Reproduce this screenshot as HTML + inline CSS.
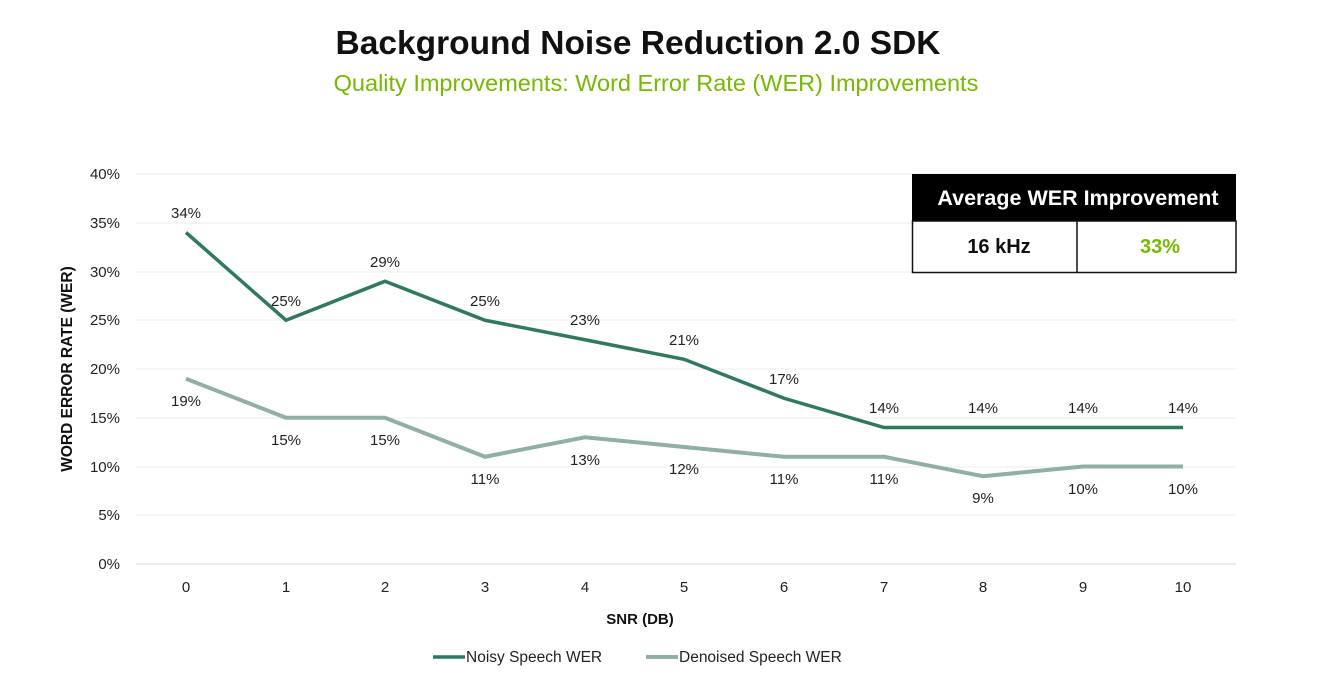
<!DOCTYPE html>
<html><head><meta charset="utf-8"><style>
html,body{margin:0;padding:0;background:#fff;}
svg{display:block;font-family:"Liberation Sans","DejaVu Sans",sans-serif;}
</style></head><body>
<svg width="1321" height="679" viewBox="0 0 1321 679" xmlns="http://www.w3.org/2000/svg">
<text x="638" y="54" text-anchor="middle" font-size="33.5" font-weight="bold" fill="#111">Background Noise Reduction 2.0 SDK</text>
<text x="656" y="91" text-anchor="middle" font-size="23.5" fill="#76b900">Quality Improvements: Word Error Rate (WER) Improvements</text>
<g stroke="#ececec" stroke-width="1">
<line x1="136" x2="1236" y1="174" y2="174"/><line x1="136" x2="1236" y1="223" y2="223"/>
<line x1="136" x2="1236" y1="272" y2="272"/><line x1="136" x2="1236" y1="320" y2="320"/>
<line x1="136" x2="1236" y1="369" y2="369"/><line x1="136" x2="1236" y1="418" y2="418"/>
<line x1="136" x2="1236" y1="467" y2="467"/><line x1="136" x2="1236" y1="515" y2="515"/>
<line x1="136" x2="1236" y1="564" y2="564" stroke="#ddd"/>
</g>
<g font-size="15" fill="#222" text-anchor="end">
<text x="120" y="179">40%</text><text x="120" y="228">35%</text><text x="120" y="277">30%</text>
<text x="120" y="325">25%</text><text x="120" y="374">20%</text><text x="120" y="423">15%</text>
<text x="120" y="472">10%</text><text x="120" y="520">5%</text><text x="120" y="569">0%</text>
</g>
<text transform="translate(72,369) rotate(-90)" text-anchor="middle" font-size="15.5" font-weight="bold" fill="#111">WORD ERROR RATE (WER)</text>
<g font-size="15" fill="#222" text-anchor="middle">
<text x="186" y="592">0</text><text x="286" y="592">1</text><text x="385" y="592">2</text><text x="485" y="592">3</text>
<text x="585" y="592">4</text><text x="684" y="592">5</text><text x="784" y="592">6</text><text x="884" y="592">7</text>
<text x="983" y="592">8</text><text x="1083" y="592">9</text><text x="1183" y="592">10</text>
</g>
<text x="640" y="624" text-anchor="middle" font-size="15" font-weight="bold" fill="#111">SNR (DB)</text>
<polyline fill="none" stroke="#8fb0a3" stroke-width="4" points="186,378.75 286,417.75 385,417.75 485,456.75 585,437.25 684,447 784,456.75 884,456.75 983,476.25 1083,466.5 1183,466.5"/>
<polyline fill="none" stroke="#2e7a5a" stroke-width="3.5" points="186,232.5 286,320.25 385,281.25 485,320.25 585,339.75 684,359.25 784,398.25 884,427.5 983,427.5 1083,427.5 1183,427.5"/>
<g font-size="15" fill="#222" text-anchor="middle">
<text x="186" y="218">34%</text><text x="286" y="306">25%</text><text x="385" y="267">29%</text><text x="485" y="306">25%</text>
<text x="585" y="325">23%</text><text x="684" y="345">21%</text><text x="784" y="384">17%</text><text x="884" y="413">14%</text>
<text x="983" y="413">14%</text><text x="1083" y="413">14%</text><text x="1183" y="413">14%</text>
<text x="186" y="406">19%</text><text x="286" y="445">15%</text><text x="385" y="445">15%</text><text x="485" y="484">11%</text>
<text x="585" y="465">13%</text><text x="684" y="474">12%</text><text x="784" y="484">11%</text><text x="884" y="484">11%</text>
<text x="983" y="503">9%</text><text x="1083" y="494">10%</text><text x="1183" y="494">10%</text>
</g>
<rect x="912" y="174" width="324" height="47" fill="#000"/>
<text x="1078" y="205" text-anchor="middle" font-size="21.5" font-weight="bold" fill="#fff">Average WER Improvement</text>
<rect x="912.5" y="221" width="323.5" height="51.5" fill="#fff" stroke="#111" stroke-width="1.5"/>
<line x1="1077" x2="1077" y1="221" y2="272" stroke="#111" stroke-width="1.5"/>
<text x="999" y="253" text-anchor="middle" font-size="20" font-weight="bold" fill="#111">16 kHz</text>
<text x="1160" y="253" text-anchor="middle" font-size="20" font-weight="bold" fill="#76b900">33%</text>
<line x1="433" x2="465" y1="657" y2="657" stroke="#2e7a5a" stroke-width="3.5"/>
<text x="466" y="662" font-size="15.5" fill="#222">Noisy Speech WER</text>
<line x1="646" x2="678" y1="657" y2="657" stroke="#8fb0a3" stroke-width="4"/>
<text x="679" y="662" font-size="15.5" fill="#222">Denoised Speech WER</text>
</svg>
</body></html>
